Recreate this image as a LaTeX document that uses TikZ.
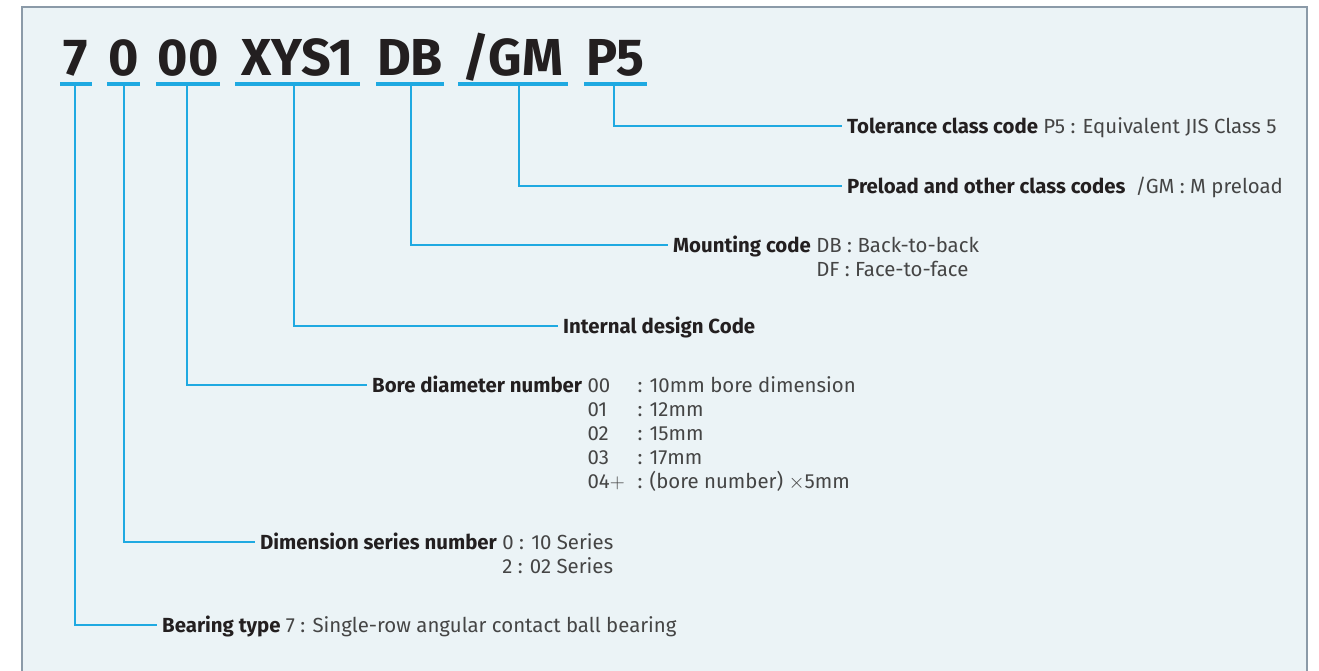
\documentclass[tikz,border=0pt]{standalone}
\usepackage{fontspec}
\setmainfont{Fira Sans}
\usetikzlibrary{calc}
\definecolor{cy}{HTML}{1FA9E1}
\definecolor{bg}{HTML}{EBF3F6}
\definecolor{framec}{HTML}{8B9AA8}
\definecolor{ink}{HTML}{231F20}
\definecolor{gr}{HTML}{454545}
\begin{document}
\begin{tikzpicture}[x=1pt,y=-1pt,
  ttl/.style={font=\fontsize{52}{52}\selectfont\bfseries, text=ink, anchor=base, inner sep=0},
  uline/.style={fill=cy, inner sep=0, minimum height=4, minimum width=#1, anchor=center},
  lab/.style={font=\fontsize{20.4}{20.4}\selectfont, text=gr, anchor=west, inner xsep=5, inner ysep=0, text height=17, text depth=2},
  row/.style={font=\fontsize{20.4}{20.4}\selectfont, text=gr, anchor=base west, inner xsep=5, inner ysep=0},
  lead/.style={draw=cy, line width=1.3}
]
\newcommand\bl[1]{\textcolor{ink}{\textbf{#1}}}
\useasboundingbox (0,0) rectangle (1319,670);
\fill[bg] (22,7) rectangle (1307,672);
\draw[framec, line width=2] (22,672) -- (22,7) -- (1307,7) -- (1307,672);

% title
\node[uline=32]  (u7)  at (76,84) {};
\node[uline=33]  (u0)  at (123.5,84) {};
\node[uline=64]  (u00) at (188,84) {};
\node[uline=125] (uX)  at (297.5,84) {};
\node[uline=68]  (uDB) at (410,84) {};
\node[uline=110] (uGM) at (513,84) {};
\node[uline=63]  (uP)  at (615.5,84) {};
\node[ttl] (t7)  at (76,75) {7};
\node[ttl] (t0)  at (123.5,75) {0};
\node[ttl] (t00) at (188,75) {00};
\node[ttl] (tX)  at (297.5,75) {XYS1};
\node[ttl] (tDB) at (410,75) {DB};
\node[ttl] (tGM) at (513,75) {/GM};
\node[ttl] (tP)  at (615.5,75) {P5};

% labels
\node[lab] (lP)  at (842,126) {\bl{Tolerance class code} P5 : Equivalent JIS Class 5};
\node[lab] (lGM) at (842,186) {\bl{Preload and other class codes}\enspace/GM : M preload};
\node[lab] (lDB) at (668,245) {\bl{Mounting code} DB : Back-to-back};
\node[row] (lDB2) at ([yshift=-24pt]lDB.base west) {\hphantom{\bl{Mounting code} }DF : Face-to-face};
\node[lab] (lX)  at (558,326) {\bl{Internal design Code}};
\node[lab] (l00) at (367,385) {\bl{Bore diameter number} \makebox[50pt][l]{00}: 10mm bore dimension};
\node[row] (l01) at ([yshift=-24pt]l00.base west) {\hphantom{\bl{Bore diameter number} }\makebox[50pt][l]{01}: 12mm};
\node[row] (l02) at ([yshift=-48pt]l00.base west) {\hphantom{\bl{Bore diameter number} }\makebox[50pt][l]{02}: 15mm};
\node[row] (l03) at ([yshift=-72pt]l00.base west) {\hphantom{\bl{Bore diameter number} }\makebox[50pt][l]{03}: 17mm};
\node[row] (l04) at ([yshift=-96pt]l00.base west) {\hphantom{\bl{Bore diameter number} }\makebox[50pt][l]{04$+$}: (bore number) $\times$5mm};
\node[lab] (l0)  at (255,542) {\bl{Dimension series number} 0 : 10 Series};
\node[row] (l02s) at ([yshift=-24pt]l0.base west) {\hphantom{\bl{Dimension series number} }2 : 02 Series};
\node[lab] (l7)  at (157,625) {\bl{Bearing type} 7 : Single-row angular contact ball bearing};

% leaders
\draw[lead] ([xshift=-1.5pt]uP.south) |- (lP.west);
\draw[lead] ([xshift=6pt]uGM.south) |- (lGM.west);
\draw[lead] ([xshift=1pt]uDB.south) |- (lDB.west);
\draw[lead] ([xshift=-3.5pt]uX.south) |- (lX.west);
\draw[lead] ([xshift=-1pt]u00.south) |- (l00.west);
\draw[lead] ([xshift=0.5pt]u0.south) |- (l0.west);
\draw[lead] ([xshift=-1pt]u7.south) |- (l7.west);
\end{tikzpicture}
\end{document}
